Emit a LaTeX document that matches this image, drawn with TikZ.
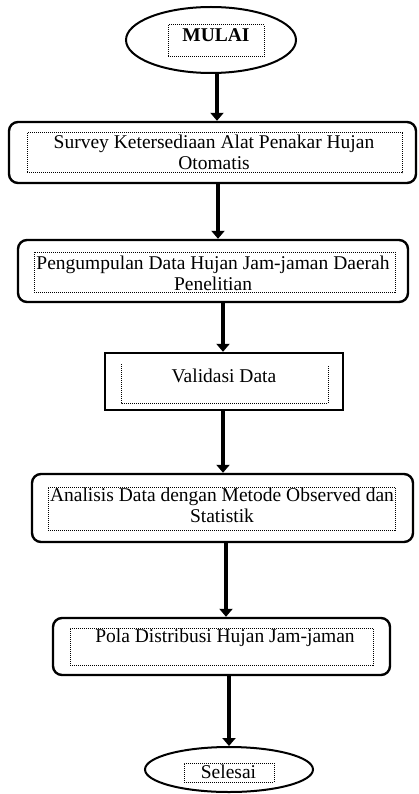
\documentclass[tikz,border=0pt]{standalone}
\usepackage{fontspec}
\setmainfont{Liberation Serif}
\usetikzlibrary{arrows.meta,shapes.geometric}
\begin{document}
\begin{tikzpicture}[x=1pt,y=-1pt,
  outer/.style={draw,line width=2.4pt,inner sep=0pt},
  rbox/.style={outer,rounded corners=9pt},
  sbox/.style={outer},
  oval/.style={draw,line width=2pt,ellipse,inner sep=0pt},
  dotbox/.style={draw,densely dotted,line width=1pt,inner sep=0pt},
  dotline/.style={densely dotted,line width=1pt},
  txt/.style={inner sep=0pt,align=center,font=\fontsize{19.5}{21}\selectfont},
  arr/.style={line width=4.5pt,-{Triangle[width=13pt,length=8pt]}}
]
\useasboundingbox (0,0) rectangle (419,794);

% outer shapes
\node[oval,minimum width=170,minimum height=66] (mulai) at (211,40) {};
\node[rbox,minimum width=407,minimum height=61] (survey) at (212.5,152.5) {};
\node[rbox,minimum width=390,minimum height=62] (kumpul) at (213,271) {};
\node[sbox,minimum width=238,minimum height=57] (valid) at (224,381.5) {};
\node[rbox,minimum width=381,minimum height=68] (analisis) at (222.5,508) {};
\node[rbox,minimum width=337,minimum height=57] (pola) at (221.5,646.5) {};
\node[oval,minimum width=168,minimum height=45] (selesai) at (229,769.5) {};

% dotted inner boxes
\node[dotbox,minimum width=96,minimum height=32] (mulaiD) at (216,41) {};
\node[dotbox,minimum width=375,minimum height=40] (surveyD) at (214.5,153) {};
\node[dotbox,minimum width=361,minimum height=40] (kumpulD) at (214.5,272) {};
\coordinate (vd1) at (121,364);
\coordinate (vd2) at (121,403);
\coordinate (vd3) at (328,403);
\coordinate (vd4) at (328,366);
\draw[dotline] (vd1) -- (vd2) -- (vd3) -- (vd4);
\node[dotbox,minimum width=347,minimum height=43] (analisisD) at (221.5,508.5) {};
\node[dotbox,minimum width=303,minimum height=37] (polaD) at (221.5,646.5) {};
\node[dotbox,minimum width=90,minimum height=19] (selesaiD) at (229,772.5) {};

% texts
\node[txt,font=\fontsize{19.5}{21}\selectfont\bfseries] (tMulai) at (216,35) {MULAI};
\node[txt] (tSurvey) at (214,152.5) {Survey Ketersediaan Alat Penakar Hujan\\Otomatis};
\node[txt] (tKumpul) at (213,273) {Pengumpulan Data Hujan Jam-jaman Daerah\\Penelitian};
\node[txt] (tValid) at (224,376) {Validasi Data};
\node[txt] (tAnalisis) at (222,505) {Analisis Data dengan Metode Observed dan\\Statistik};
\node[txt] (tPola) at (225,638) {Pola Distribusi Hujan Jam-jaman};
\node[txt] (tSelesai) at (228.5,772) {Selesai};

% arrow columns
\coordinate (c1) at (217,0);
\coordinate (c2) at (218,0);
\coordinate (c3) at (223,0);
\coordinate (c4) at (223,0);
\coordinate (c5) at (226,0);
\coordinate (c6) at (229,0);

\draw[arr] (mulai.south -| c1) -- (survey.north -| c1);
\draw[arr] (survey.south -| c2) -- (kumpul.north -| c2);
\draw[arr] (kumpul.south -| c3) -- (valid.north -| c3);
\draw[arr] (valid.south -| c4) -- (analisis.north -| c4);
\draw[arr] (analisis.south -| c5) -- (pola.north -| c5);
\draw[arr] (pola.south -| c6) -- (selesai.north -| c6);
\end{tikzpicture}
\end{document}
